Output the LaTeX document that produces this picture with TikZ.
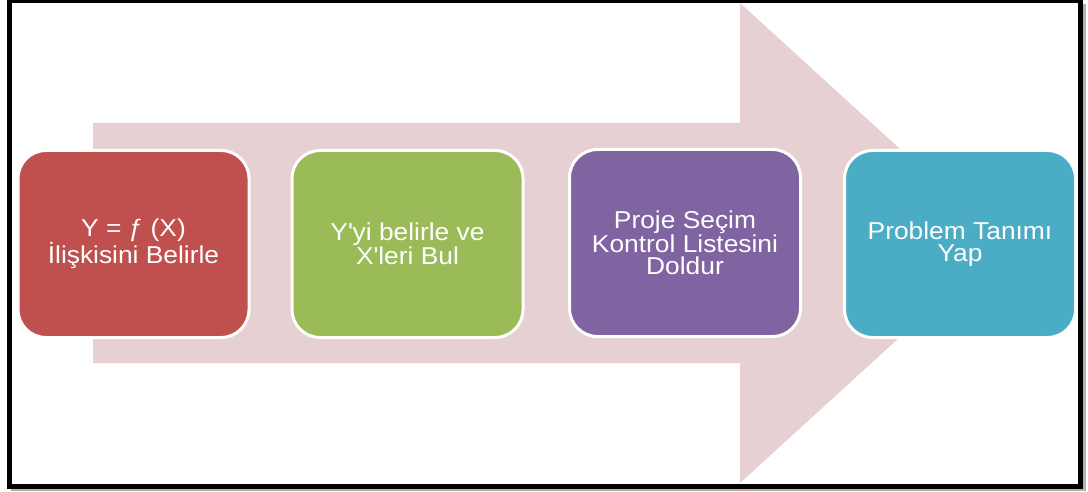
\documentclass[tikz,border=0pt]{standalone}
\usepackage{fontspec}
\setmainfont{Liberation Sans}[FakeStretch=1.08]
\begin{document}
\begin{tikzpicture}[x=1pt,y=-1pt,
  stepbox/.style={draw=white, line width=3pt, rounded corners=28pt,
    minimum width=231pt, minimum height=187pt, align=center, text=white,
    font=\fontsize{24.4}{22.5}\selectfont, inner sep=0pt},
  flow/.style={fill=flowpink, draw=none}]
\definecolor{flowpink}{HTML}{E6D0D1}
\definecolor{stepred}{HTML}{C0504D}
\definecolor{stepgreen}{HTML}{9BBB59}
\definecolor{steppurple}{HTML}{8064A2}
\definecolor{stepblue}{HTML}{4BACC6}
\useasboundingbox (0,0) rectangle (1088,492);
\fill[white] (0,0) rectangle (1088,492);
% frame with soft shadow on the lower right
\draw[line width=3pt, gray!60] (11,489.5) -- (1084,489.5) -- (1084,4);
\draw[line width=5pt, black] (9.5,1) rectangle (1080.5,486);
% broad background arrow
\path[flow] (93,123) -- (740,123) -- (740,3) -- (1003,243)
  -- (740,483) -- (740,363) -- (93,363) -- cycle;
% the four steps
\node[stepbox, fill=stepred] (s1) at (133.5,244)
  {Y = ƒ (X)\\İlişkisini Belirle};
\node[stepbox, fill=stepgreen] (s2) at (407.5,244)
  {Y\textquotesingle yi belirle ve\\X\textquotesingle leri Bul};
\node[stepbox, fill=steppurple] (s3) at (685,243)
  {Proje Seçim\\Kontrol Listesini\\Doldur};
\node[stepbox, fill=stepblue] (s4) at (960,244)
  {Problem Tanımı\\Yap};
\end{tikzpicture}
\end{document}
